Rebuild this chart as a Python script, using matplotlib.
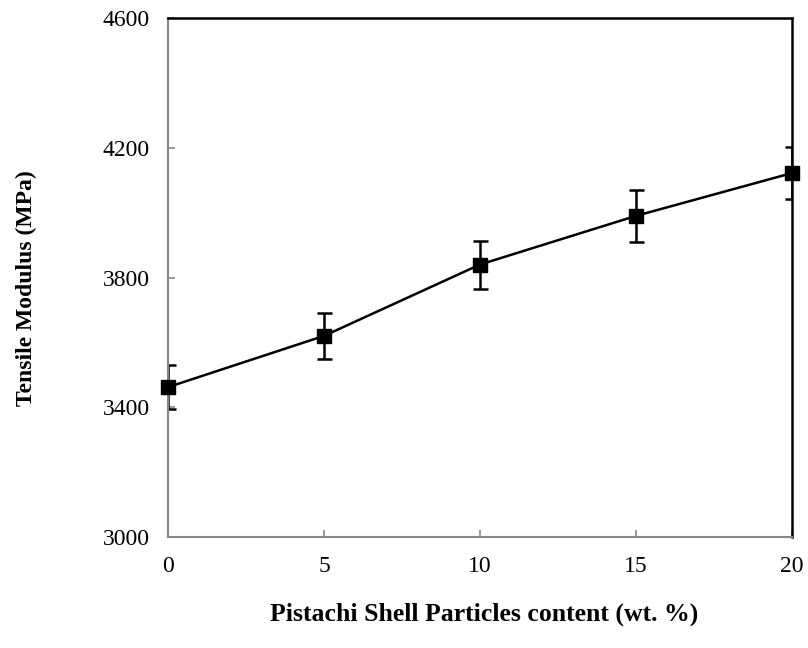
import matplotlib
matplotlib.use("Agg")
import matplotlib.pyplot as plt

content = [0, 5, 10, 15, 20]
modulus = [3462, 3620, 3840, 3990, 4122]
errors = [68, 72, 74, 80, 80]
xticks = [0, 5, 10, 15, 20]
yticks = [3000, 3400, 3800, 4200, 4600]

plt.rcParams['font.family'] = ['Liberation Serif', 'DejaVu Serif']

fig = plt.figure(figsize=(8.08, 6.48), dpi=100)
ax = fig.add_axes([168/808, 1-537/648, (792-168)/808, (537-18)/648])

ax.errorbar(content, modulus, yerr=errors, fmt='none', ecolor='black',
            elinewidth=1.8, capsize=5.4, capthick=1.8, clip_on=True)
ax.plot(content, modulus, color='black', lw=1.8, marker='s', markersize=10.5,
        clip_on=False, zorder=5)

ax.set_xlim(0, 20)
ax.set_ylim(3000, 4600)
ax.set_xticks(xticks)
ax.set_yticks(yticks)
ax.tick_params(direction='in', length=5, width=1.2, color='#888888',
               labelsize=17)
ax.tick_params(axis='y', pad=13)
ax.tick_params(axis='x', pad=14)
for s in ['left', 'bottom']:
    ax.spines[s].set_color('#888888')
    ax.spines[s].set_linewidth(1.5)
for s in ['top', 'right']:
    ax.spines[s].set_color('black')
    ax.spines[s].set_linewidth(1.8)

fig.text(26/808, 1-288/648, 'Tensile Modulus (MPa)', rotation=90, fontsize=17,
         fontweight='bold', ha='center', va='center')
fig.text(484/808, 1-614/648, 'Pistachi Shell Particles content (wt. %)',
         fontsize=18.5, fontweight='bold', ha='center', va='center')

fig.savefig('out.png', dpi=100)
